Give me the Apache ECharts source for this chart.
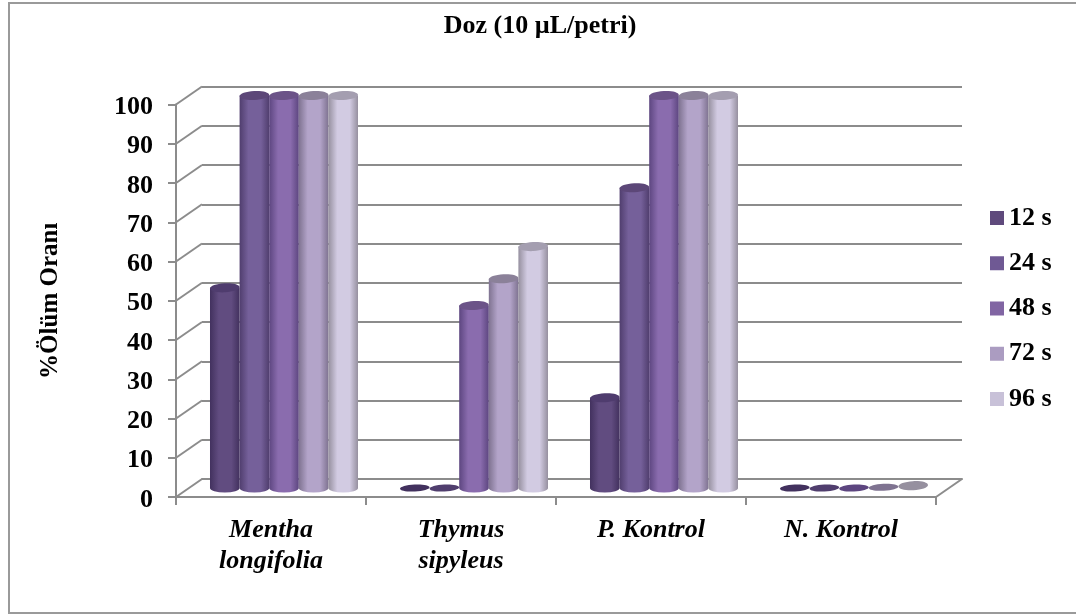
<!DOCTYPE html>
<html>
<head>
<meta charset="utf-8">
<style>
html,body{margin:0;padding:0;background:#fff}
#chart{width:1076px;height:614px}
</style>
<script src="https://cdn.jsdelivr.net/npm/echarts@6/dist/echarts.min.js"></script>
</head>
<body>
<div id="chart"></div>
<script>
var categories = ['Mentha\nlongifolia', 'Thymus\nsipyleus', 'P. Kontrol', 'N. Kontrol'];
var seriesNames = ['12 s', '24 s', '48 s', '72 s', '96 s'];
var s12 = [51, 0, 23, 0];
var s24 = [100, 0, 76.5, 0];
var s48 = [100, 46.5, 100, 0];
var s72 = [100, 53.3, 100, 0.2];
var s96 = [100, 61.5, 100, 0.6];
var yTicks = [0, 10, 20, 30, 40, 50, 60, 70, 80, 90, 100];

var seriesValues = [s12, s24, s48, s72, s96];
/* kenar, orta, ust elips */
var colors = [
	['#42315e', '#614c80', '#4f3c6e'],
	['#503e6e', '#75609a', '#5c4778'],
	['#5d4680', '#8a6cae', '#6b5388'],
	['#7f7391', '#b3a4c9', '#8b8199'],
	['#96909f', '#d2cbe2', '#a49eb0']
];
var legendColors = ['#5f4a7c', '#6f5994', '#8165a3', '#ab9cc1', '#c8c1d8'];

var font = '"Liberation Serif", "Times New Roman", serif';
var lineColor = '#8c8c8c';
var gridLeft = 176, gridRight = 140, gridTop = 104.5, gridBottom = 117;
var depthX = 26, depthY = 18;

function barItem(si) {
	return function (params, api) {
		var cat = api.value(0), val = api.value(1);
		var catW = api.size([1, 0])[0];
		var w = catW * 0.779 / 5;
		var base = api.coord([cat, 0]);
		var tip = api.coord([cat, val]);
		var x = base[0] + (si - 2) * w;
		var rx = w / 2, ry = val > 0.3 ? 4.5 : 3.5;
		var c = colors[si];
		var children = [];
		if (val > 1) {
			children.push({
				type: 'path',
				shape: {
					pathData: 'M' + (x - rx) + ' ' + tip[1] + 'L' + (x - rx) + ' ' + base[1] +
						'A' + rx + ' ' + ry + ' 0 0 0 ' + (x + rx) + ' ' + base[1] +
						'L' + (x + rx) + ' ' + tip[1] + 'Z'
				},
				style: {
					fill: new echarts.graphic.LinearGradient(0, 0, 1, 0, [
						{offset: 0, color: c[0]},
						{offset: 0.3, color: c[1]},
						{offset: 0.72, color: c[1]},
						{offset: 1, color: c[0]}
					])
				}
			});
		}
		children.push({
			type: 'ellipse',
			rotation: 0.05,
			originX: x,
			originY: tip[1],
			shape: {cx: x, cy: tip[1], rx: rx, ry: ry},
			style: {fill: val > 1 ? c[2] : c[0]}
		});
		return {type: 'group', children: children};
	};
}

/* yan duvar cizgileri */
function depthItem(params, api) {
	var p = api.coord([0, api.value(1)]);
	var x0 = params.coordSys.x;
	return {
		type: 'line',
		shape: {x1: x0, y1: p[1], x2: x0 + depthX, y2: p[1] - depthY},
		style: {stroke: lineColor, lineWidth: 2}
	};
}

function floorItem(params, api) {
	var cs = params.coordSys;
	var y = api.coord([0, 0])[1];
	return {
		type: 'line',
		shape: {x1: cs.x + cs.width, y1: y, x2: cs.x + cs.width + depthX, y2: y - depthY},
		style: {stroke: lineColor, lineWidth: 2}
	};
}

var series = [
	{type: 'custom', xAxisIndex: 0, yAxisIndex: 0, silent: true, z: 1, clip: false, renderItem: depthItem, data: yTicks.map(function (v) { return [0, v]; }), encode: {x: 0, y: 1}},
	{type: 'custom', xAxisIndex: 0, yAxisIndex: 0, silent: true, z: 1, clip: false, renderItem: floorItem, data: [[0, 0]], encode: {x: 0, y: 1}}
];
seriesNames.forEach(function (name, si) {
	series.push({
		name: name,
		type: 'custom',
		xAxisIndex: 2,
		yAxisIndex: 2,
		z: 3 + si,
		silent: true,
		clip: false,
		itemStyle: {color: legendColors[si]},
		renderItem: barItem(si),
		encode: {x: 0, y: 1},
		data: seriesValues[si].map(function (v, i) { return [i, v]; })
	});
});

var chart = echarts.init(document.getElementById('chart'));
chart.setOption({
	animation: false,
	backgroundColor: '#fff',
	title: {
		text: 'Doz (10 µL/petri)',
		left: 535,
		top: 8,
		textAlign: 'center',
		textStyle: {fontFamily: font, fontSize: 26, fontWeight: 'bold', color: '#000'}
	},
	legend: {
		orient: 'vertical',
		left: 990,
		top: 205,
		padding: 0,
		itemWidth: 14,
		itemHeight: 14,
		itemGap: 19.25,
		icon: 'rect',
		data: seriesNames,
		textStyle: {fontFamily: font, fontSize: 26, fontWeight: 'bold', color: '#000'}
	},
	graphic: [{
		type: 'polyline',
		silent: true,
		shape: {points: [[1080, 3], [9, 3], [9, 613], [1080, 613]]},
		style: {fill: null, stroke: '#9a9a9a', lineWidth: 2}
	}],
	grid: [
		{left: gridLeft, right: gridRight, top: gridTop, bottom: gridBottom},
		{left: gridLeft + depthX, right: gridRight - depthX, top: gridTop - depthY, bottom: gridBottom + depthY},
		{left: gridLeft + depthX / 2, right: gridRight - depthX / 2, top: gridTop - depthY / 2, bottom: gridBottom + depthY / 2}
	],
	xAxis: [
		{
			type: 'category',
			gridIndex: 0,
			data: categories,
			axisLine: {lineStyle: {color: lineColor, width: 2}},
			axisTick: {show: true, alignWithLabel: false, length: 8, lineStyle: {color: lineColor, width: 2}},
			axisLabel: {
				margin: 18,
				fontFamily: font,
				fontSize: 26,
				fontWeight: 'bold',
				fontStyle: 'italic',
				lineHeight: 31,
				color: '#000',
				interval: 0
			}
		},
		{
			type: 'category',
			gridIndex: 1,
			data: categories,
			axisLine: {show: true, lineStyle: {color: lineColor, width: 2}},
			axisTick: {show: false},
			axisLabel: {show: false}
		},
		{
			type: 'category',
			gridIndex: 2,
			data: categories,
			axisLine: {show: false},
			axisTick: {show: false},
			axisLabel: {show: false}
		}
	],
	yAxis: [
		{
			type: 'value',
			gridIndex: 0,
			min: 0,
			max: 100,
			interval: 10,
			name: '%Ölüm Oranı',
			nameLocation: 'middle',
			nameGap: 113,
			nameTextStyle: {fontFamily: font, fontSize: 25, fontWeight: 'bold', color: '#000'},
			axisLine: {show: true, lineStyle: {color: lineColor, width: 2}},
			axisTick: {show: true, length: 8, lineStyle: {color: lineColor, width: 2}},
			axisLabel: {margin: 23, verticalAlign: 'top', lineHeight: 6, fontFamily: font, fontSize: 26, fontWeight: 'bold', color: '#000'},
			splitLine: {show: false}
		},
		{
			type: 'value',
			gridIndex: 1,
			min: 0,
			max: 100,
			interval: 10,
			axisLine: {show: false},
			axisTick: {show: false},
			axisLabel: {show: false},
			splitLine: {show: true, lineStyle: {color: lineColor, width: 2, type: 'solid'}}
		},
		{
			type: 'value',
			gridIndex: 2,
			min: 0,
			max: 100,
			interval: 10,
			axisLine: {show: false},
			axisTick: {show: false},
			axisLabel: {show: false},
			splitLine: {show: false}
		}
	],
	series: series
});
</script>
</body>
</html>
